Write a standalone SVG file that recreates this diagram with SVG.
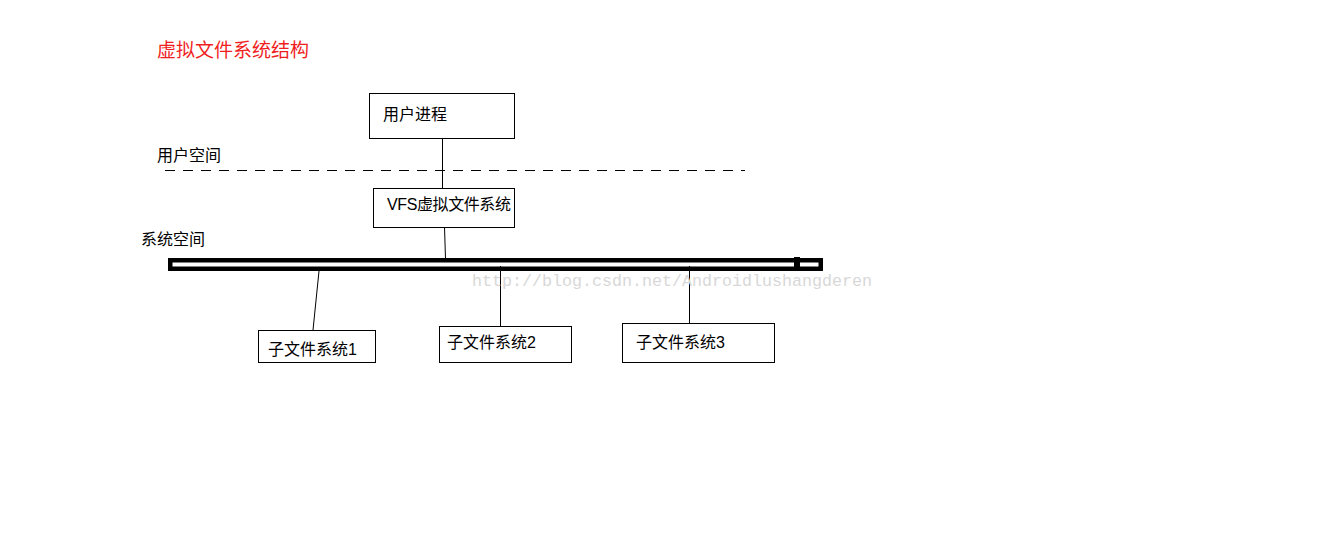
<svg xmlns="http://www.w3.org/2000/svg" width="1325" height="539" viewBox="0 0 1325 539">
<style>
.t{font-family:"Liberation Sans","Noto Sans CJK SC",sans-serif;font-size:16px;fill:#000}
.box{fill:#fff;stroke:#000;stroke-width:1}
.ln{stroke:#000;stroke-width:1;fill:none}
</style>
<rect width="1325" height="539" fill="#fff"/>
<text x="157" y="57" font-family="Liberation Sans,Noto Sans CJK SC,sans-serif" font-size="19" fill="#f01e1e">虚拟文件系统结构</text>
<text class="t" x="157" y="161">用户空间</text>
<text class="t" x="141" y="245">系统空间</text>
<line x1="165" y1="170.5" x2="745" y2="170.5" stroke="#000" stroke-width="1" stroke-dasharray="10,8"/>
<g id="connectors">
<line class="ln" x1="442.5" y1="138" x2="442.5" y2="188"/>
<line class="ln" x1="444.5" y1="227" x2="445.5" y2="259"/>
<line class="ln" x1="319" y1="271" x2="313" y2="330"/>
<line class="ln" x1="500.5" y1="266" x2="500.5" y2="326"/>
<line class="ln" x1="689.5" y1="266" x2="689.5" y2="323"/>
</g>
<g id="bus">
<rect x="170.25" y="260.25" width="650.5" height="8.5" fill="none" stroke="#000" stroke-width="4.5"/>
<rect x="794" y="257" width="6" height="11" fill="#000"/>
</g>
<g id="user-process"><rect class="box" x="369.5" y="93.5" width="145" height="45"/><text class="t" x="383" y="120">用户进程</text></g>
<g id="vfs"><rect class="box" x="373.5" y="188.5" width="141" height="39"/><text class="t" x="387" y="210" textLength="124">VFS虚拟文件系统</text></g>
<g id="sub1"><rect class="box" x="258.5" y="330.5" width="117" height="32"/><text class="t" x="268" y="355">子文件系统1</text></g>
<g id="sub2"><rect class="box" x="439.5" y="326.5" width="132" height="36"/><text class="t" x="447" y="348">子文件系统2</text></g>
<g id="sub3"><rect class="box" x="622.5" y="323.5" width="152" height="39"/><text class="t" x="636" y="348">子文件系统3</text></g>
<text x="472" y="286" font-family="Liberation Mono,monospace" font-size="16.7" fill="#d8d8d8" textLength="400">http://blog.csdn.net/Androidlushangderen</text>
</svg>
